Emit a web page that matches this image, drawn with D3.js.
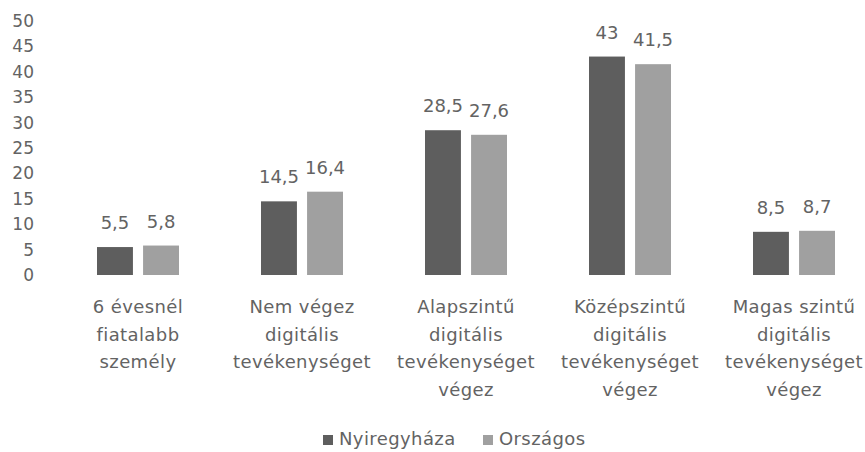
<!DOCTYPE html>
<html>
<head>
<meta charset="UTF-8">
<script src="https://cdn.jsdelivr.net/npm/d3@7"></script>
<style>
  body { margin: 0; background: #fff; }
  svg { display: block; }
  text { font-family: "DejaVu Sans", sans-serif; fill: #636363; }
</style>
</head>
<body>
<svg width="865" height="452"></svg>
<script>
// data
var categories = [
  ["6 évesnél", "fiatalabb", "személy"],
  ["Nem végez", "digitális", "tevékenységet"],
  ["Alapszintű", "digitális", "tevékenységet", "végez"],
  ["Középszintű", "digitális", "tevékenységet", "végez"],
  ["Magas szintű", "digitális", "tevékenységet", "végez"]
];
var seriesNames = ["Nyiregyháza", "Országos"];
var nyiregyhaza = [5.5, 14.5, 28.5, 43, 8.5];
var orszagos = [5.8, 16.4, 27.6, 41.5, 8.7];
var yTicks = [0, 5, 10, 15, 20, 25, 30, 35, 40, 45, 50];
var colors = ["#5e5e5e", "#a0a0a0"];

var svg = d3.select("svg");

var x0 = d3.scaleBand()
    .domain(d3.range(categories.length))
    .range([56, 876])
    .paddingInner(0.5)
    .paddingOuter(0.25);

var x1 = d3.scaleBand()
    .domain([0, 1])
    .range([0, x0.bandwidth()])
    .paddingInner(0.22);

var y = d3.scaleLinear()
    .domain([0, 50])
    .range([275, 21]);

// y axis labels only, no line
var yAxis = svg.append("g")
    .attr("transform", "translate(34,0)")
    .call(d3.axisLeft(y).tickValues(yTicks).tickSize(0).tickPadding(0));
yAxis.select(".domain").remove();
yAxis.selectAll("text")
    .attr("fill", "#636363")
    .style("font-size", "17px")
    .style("font-family", "DejaVu Sans");

var fmt = function (v) { return String(v).replace(".", ","); };

var rows = categories.map(function (c, i) {
  return [nyiregyhaza[i], orszagos[i]];
});

var groups = svg.selectAll(".grp")
    .data(rows)
    .enter().append("g")
    .attr("class", "grp")
    .attr("transform", function (d, i) { return "translate(" + x0(i) + ",0)"; });

groups.selectAll("rect")
    .data(function (d) { return d; })
    .enter().append("rect")
    .attr("x", function (d, j) { return x1(j); })
    .attr("y", function (d) { return y(d); })
    .attr("width", x1.bandwidth())
    .attr("height", function (d) { return y(0) - y(d); })
    .attr("fill", function (d, j) { return colors[j]; });

groups.selectAll(".val")
    .data(function (d) { return d; })
    .enter().append("text")
    .attr("class", "val")
    .attr("x", function (d, j) { return x1(j) + x1.bandwidth() / 2; })
    .attr("y", function (d) { return y(d) - 18; })
    .attr("text-anchor", "middle")
    .style("font-size", "18px")
    .text(fmt);

// category labels
var labels = svg.selectAll(".cat")
    .data(categories)
    .enter().append("text")
    .attr("class", "cat")
    .attr("text-anchor", "middle")
    .style("font-size", "18px")
    .style("letter-spacing", "0.4px")
    .attr("x", function (d, i) { return x0(i) + x0.bandwidth() / 2; })
    .attr("y", 313);

labels.selectAll("tspan")
    .data(function (d) { return d; })
    .enter().append("tspan")
    .attr("x", function () { return d3.select(this.parentNode).attr("x"); })
    .attr("dy", function (d, k) { return k === 0 ? 0 : 27.5; })
    .text(function (d) { return d; });

// legend
var legendX = [323, 483];
var legend = svg.selectAll(".leg")
    .data(seriesNames)
    .enter().append("g")
    .attr("class", "leg")
    .attr("transform", function (d, i) { return "translate(" + legendX[i] + ",435)"; });

legend.append("rect")
    .attr("width", 10)
    .attr("height", 10)
    .attr("fill", function (d, i) { return colors[i]; });

legend.append("text")
    .attr("x", 16)
    .attr("y", 10)
    .style("font-size", "18px")
    .style("letter-spacing", "0.4px")
    .text(function (d) { return d; });
</script>
</body>
</html>
